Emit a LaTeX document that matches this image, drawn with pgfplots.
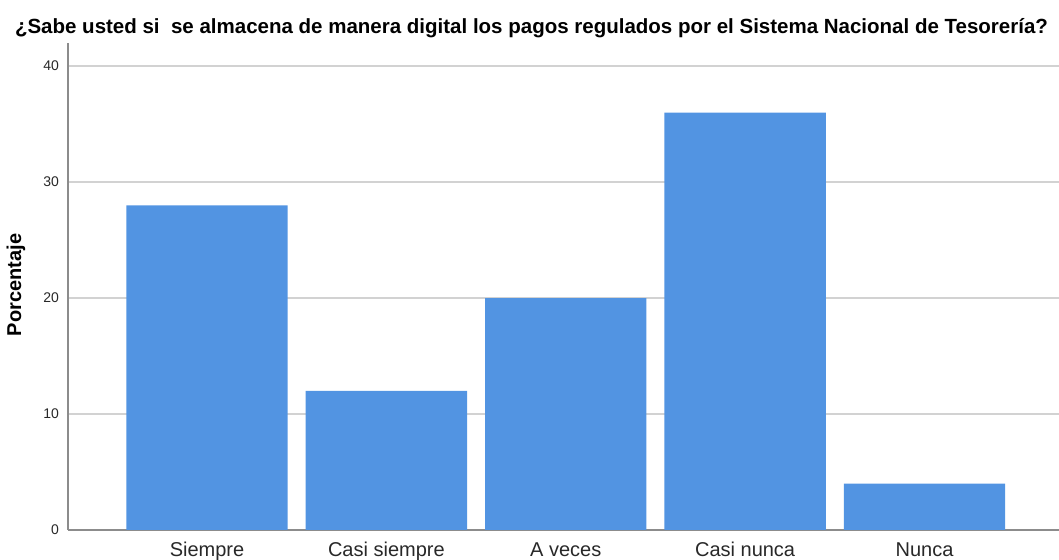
\documentclass[border=0pt]{standalone}
\usepackage{fontspec}
\setmainfont{Liberation Sans}
\usepackage{pgfplots}
\pgfplotsset{compat=1.18}
\definecolor{barblue}{RGB}{82,148,226}
\definecolor{gridgray}{RGB}{210,210,210}
\definecolor{axgray}{RGB}{140,140,140}
\definecolor{txtgray}{RGB}{40,40,40}
\begin{document}
\begin{tikzpicture}
\begin{axis}[
  name=ax,
  scale only axis,
  width=495.5pt, height=243.5pt,
  xmin=-0.775, xmax=4.75,
  ymin=0, ymax=42,
  ytick={0,10,20,30,40},
  xtick={0,1,2,3,4},
  xticklabels={Siempre,Casi siempre,A veces,Casi nunca,Nunca},
  axis x line*=bottom, axis y line*=left,
  axis line style={axgray, line width=0.8pt},
  x axis line style={-}, y axis line style={-},
  major tick length=0pt,
  ymajorgrids, grid style={gridgray, line width=0.7pt},
  /pgf/number format/assume math mode=true,
  yticklabel style={font=\fontsize{7}{8}\selectfont, xshift=-1pt, text=txtgray},
  xticklabel style={font=\fontsize{10}{11}\selectfont, anchor=base, yshift=-13.5pt, text=txtgray},
  ybar, bar width=0.9, bar shift=0pt,
  clip=false,
]
\addplot[fill=barblue, draw=none] coordinates {(0,28) (1,12) (2,20) (3,36) (4,4)};
\end{axis}
\node[font=\bfseries\fontsize{10.25}{11}\selectfont] at ([xshift=231.75pt,yshift=251pt]ax.south west) {¿Sabe usted si\ \ se almacena de manera digital los pagos regulados por el Sistema Nacional de Tesorería?};
\node[font=\bfseries\fontsize{10}{11}\selectfont, rotate=90] at ([xshift=-26pt,yshift=122.5pt]ax.south west) {Porcentaje};
\pgfresetboundingbox
\path ([xshift=-34pt,yshift=-15pt]ax.south west) rectangle ([xshift=495.5pt,yshift=265pt]ax.south west);
\end{tikzpicture}
\end{document}
